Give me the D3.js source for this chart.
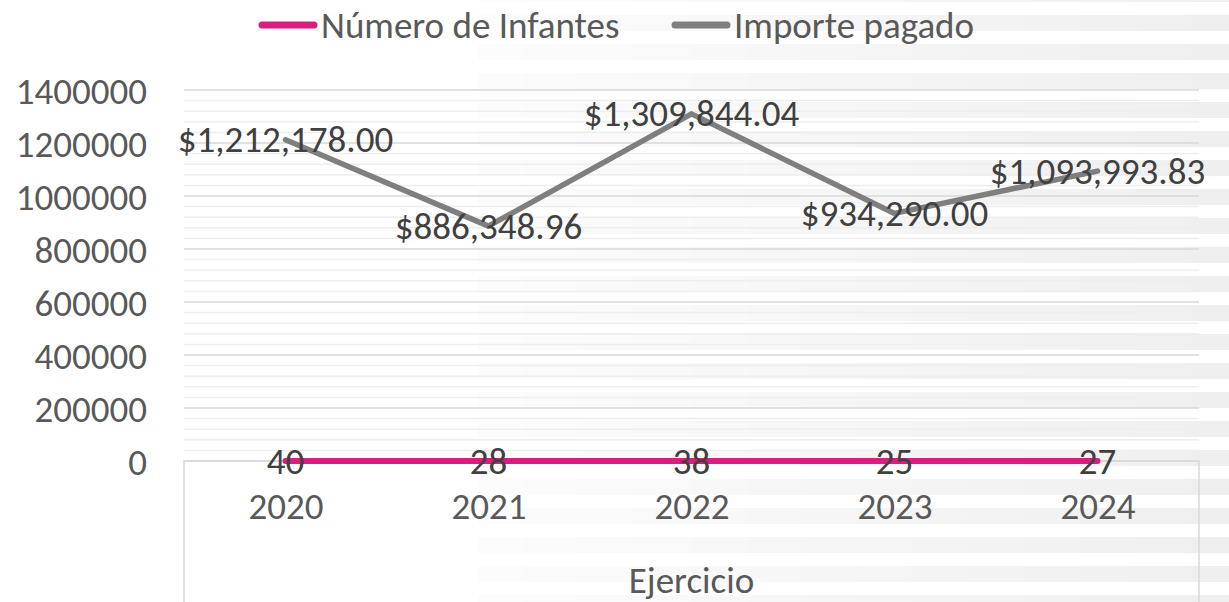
<!DOCTYPE html>
<html lang="es">
<head>
    <meta charset="UTF-8">
    <title>Número de Infantes e Importe pagado</title>
    <script src="https://d3js.org/d3.v7.min.js"></script>
    <style>
        body { margin: 0; background: #fff; }
        svg { display: block; }
        text { font-family: Carlito, "Open Sans", sans-serif; }
        .tick-label { font-size: 37px; fill: #595959; }
        .data-label { font-size: 37px; fill: #404040; }
    </style>
</head>
<body>
    <svg width="1229" height="602"></svg>

    <script>
        // Categories and series
        const years = ["2020", "2021", "2022", "2023", "2024"];
        const infantes = [40, 28, 38, 25, 27];
        const importe = [1212178.00, 886348.96, 1309844.04, 934290.00, 1093993.83];
        const yTicks = [0, 200000, 400000, 600000, 800000, 1000000, 1200000, 1400000];
        const seriesNames = ["Número de Infantes", "Importe pagado"];
        const seriesColors = ["#d61f80", "#7f7f7f"];

        const W = 1229, H = 602;
        const plot = { left: 184, right: 1199, top: 90, bottom: 461 };

        const svg = d3.select("svg");
        const defs = svg.append("defs");

        // Decorative striped background fading in from the left
        const pattern = defs.append("pattern")
            .attr("id", "stripes")
            .attr("patternUnits", "userSpaceOnUse")
            .attr("width", 40).attr("height", 29)
            .attr("y", 15);
        pattern.append("rect").attr("width", 40).attr("height", 16).attr("fill", "#ededed");

        const grad = defs.append("linearGradient")
            .attr("id", "fade")
            .attr("gradientUnits", "userSpaceOnUse")
            .attr("x1", 478).attr("x2", W).attr("y1", 0).attr("y2", 0);
        grad.append("stop").attr("offset", 0).attr("stop-color", "#fff").attr("stop-opacity", 0.15);
        grad.append("stop").attr("offset", 1).attr("stop-color", "#fff").attr("stop-opacity", 0.9);

        const mask = defs.append("mask").attr("id", "fadeMask");
        mask.append("rect").attr("x", 478).attr("width", W - 478).attr("height", H).attr("fill", "url(#fade)");

        svg.append("rect").attr("width", W).attr("height", H).attr("fill", "#fff");
        svg.append("rect")
            .attr("x", 478).attr("width", W - 478).attr("height", H)
            .attr("fill", "url(#stripes)")
            .attr("mask", "url(#fadeMask)");

        // Scales
        const x = d3.scalePoint()
            .domain(years)
            .range([plot.left, plot.right])
            .padding(0.5);

        const y = d3.scaleLinear()
            .domain([0, 1400000])
            .range([plot.bottom, plot.top]);

        // Minor and major gridlines
        const minor = d3.range(40000, 1400000, 40000).filter(v => v % 200000 !== 0);
        svg.append("g").selectAll("line")
            .data(minor)
            .join("line")
            .attr("x1", plot.left).attr("x2", plot.right)
            .attr("y1", d => y(d)).attr("y2", d => y(d))
            .attr("stroke", "#eeeeee").attr("stroke-width", 1.5);

        svg.append("g").selectAll("line")
            .data(yTicks)
            .join("line")
            .attr("x1", plot.left).attr("x2", plot.right)
            .attr("y1", d => y(d)).attr("y2", d => y(d))
            .attr("stroke", "#d9d9d9").attr("stroke-width", 1.5);

        // Category axis box
        svg.append("path")
            .attr("d", `M${plot.left},${H}V${plot.bottom}H${plot.right}V${H}`)
            .attr("fill", "none")
            .attr("stroke", "#d9d9d9")
            .attr("stroke-width", 1.5);

        // Y axis labels
        const yAxis = svg.append("g")
            .attr("transform", `translate(${plot.left},0)`)
            .call(d3.axisLeft(y).tickValues(yTicks).tickSize(0).tickPadding(37).tickFormat(d3.format("d")));
        yAxis.select(".domain").remove();
        yAxis.selectAll(".tick text")
            .attr("class", "tick-label")
            .attr("font-size", null)
            .attr("font-family", null)
            .attr("dy", "0.36em");

        // X axis labels
        const xAxis = svg.append("g")
            .attr("transform", `translate(0,${plot.bottom})`)
            .call(d3.axisBottom(x).tickSize(0).tickPadding(36));
        xAxis.select(".domain").remove();
        xAxis.selectAll(".tick text")
            .attr("class", "tick-label")
            .attr("font-size", null)
            .attr("font-family", null)
            .attr("dy", "0.6em");

        svg.append("text")
            .attr("class", "tick-label")
            .attr("x", (plot.left + plot.right) / 2)
            .attr("y", 580)
            .attr("dy", "0.34em")
            .attr("text-anchor", "middle")
            .text("Ejercicio");

        // Lines
        const line = d3.line()
            .x((d, i) => x(years[i]))
            .y(d => y(d));

        svg.append("path")
            .datum(importe)
            .attr("d", line)
            .attr("fill", "none")
            .attr("stroke", seriesColors[1])
            .attr("stroke-width", 5.5)
            .attr("stroke-linejoin", "round")
            .attr("stroke-linecap", "round");

        svg.append("path")
            .datum(infantes)
            .attr("d", line)
            .attr("fill", "none")
            .attr("stroke", seriesColors[0])
            .attr("stroke-width", 6)
            .attr("stroke-linejoin", "round")
            .attr("stroke-linecap", "round");

        // Data labels
        const money = d3.format("$,.2f");
        svg.append("g").selectAll("text")
            .data(importe)
            .join("text")
            .attr("class", "data-label")
            .attr("x", (d, i) => x(years[i]))
            .attr("y", d => y(d))
            .attr("dy", "0.34em")
            .attr("text-anchor", "middle")
            .text(d => money(d));

        svg.append("g").selectAll("text")
            .data(infantes)
            .join("text")
            .attr("class", "data-label")
            .attr("x", (d, i) => x(years[i]))
            .attr("y", d => y(d))
            .attr("dy", "0.34em")
            .attr("text-anchor", "middle")
            .text(d => d);

        // Legend
        const legendX = [259, 672];
        const legend = svg.append("g").selectAll("g")
            .data(seriesNames)
            .join("g")
            .attr("transform", (d, i) => `translate(${legendX[i]},25)`);
        legend.append("line")
            .attr("x1", 3).attr("x2", 55)
            .attr("stroke", (d, i) => seriesColors[i])
            .attr("stroke-width", 7)
            .attr("stroke-linecap", "round");
        legend.append("text")
            .attr("class", "tick-label")
            .attr("x", 62)
            .attr("dy", "0.34em")
            .text(d => d);
    </script>
</body>
</html>
